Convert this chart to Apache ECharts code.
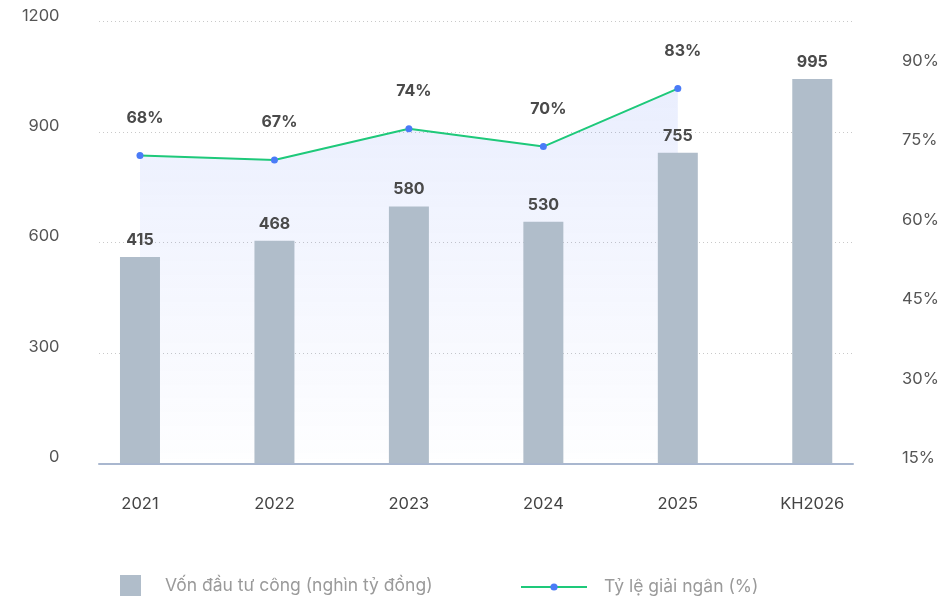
<!DOCTYPE html>
<html>
<head>
<meta charset="utf-8">
<script src="https://cdn.jsdelivr.net/npm/echarts@6/dist/echarts.min.js"></script>
<style>
  html, body { margin: 0; padding: 0; background: #fff; }
  #chart { width: 942px; height: 603px; }
</style>
</head>
<body>
<div id="chart"></div>
<script>
const categories = ['2021', '2022', '2023', '2024', '2025', 'KH2026'];
const investment = [415, 468, 580, 530, 755, 995];
const disbursementRate = [68, 67, 74, 70, 83];
const leftTicks = [0, 1200, 300];   // min, max, interval
const rightTicks = [15, 90, 15];
const barName = 'Vốn đầu tư công (nghìn tỷ đồng)';
const lineName = 'Tỷ lệ giải ngân (%)';

const FONT = 'Inter, "Noto Sans", sans-serif';
const myChart = echarts.init(document.getElementById('chart'));

let option = {
  animation: false,
  textStyle: { fontFamily: FONT },
  grid: [
    { left: 99, right: 89, top: 21.7, bottom: 139.7 },     // axis + split lines
    { left: 72.75, right: 62.5, top: 21.7, bottom: 139.7 }, // series
    { left: 99, right: 89, top: 61, bottom: 144.7 }         // right labels
  ],
  legend: [
    {
      data: [barName],
      left: 120, top: 575, padding: 0,
      icon: 'rect', itemWidth: 21, itemHeight: 21,
      textStyle: { color: '#9a9a9a', fontSize: 17.5, fontFamily: FONT, padding: [0, 0, 0, 19] }
    },
    {
      data: [lineName],
      left: 520, top: 578, padding: 0,
      itemWidth: 66, itemHeight: 9,
      textStyle: { color: '#9a9a9a', fontSize: 17.5, fontFamily: FONT, padding: [0, 0, 0, 12] }
    }
  ],
  xAxis: [
    {
      gridIndex: 0, type: 'category', data: categories,
      axisLine: { show: true, lineStyle: { color: '#a9b7cf', width: 2 } },
      axisTick: { show: false }, axisLabel: { show: false }
    },
    {
      gridIndex: 1, type: 'category', data: categories,
      axisLine: { show: false }, axisTick: { show: false },
      axisLabel: { color: '#444', fontSize: 16.5, fontFamily: FONT, margin: 32 }
    },
    {
      gridIndex: 2, type: 'category', data: categories, show: false
    }
  ],
  yAxis: [
    {
      gridIndex: 0, type: 'value',
      min: leftTicks[0], max: leftTicks[1], interval: leftTicks[2],
      axisLine: { show: false }, axisTick: { show: false },
      axisLabel: {
        color: '#555', fontSize: 16.5, fontFamily: FONT, margin: 39.5,
        verticalAlign: 'bottom', lineHeight: 12,
        formatter: (v) => String(v)
      },
      splitLine: { lineStyle: { color: '#c9c9c9', type: [1, 3], width: 1 } }
    },
    {
      gridIndex: 1, type: 'value', min: -257, max: 1182, startValue: -257, show: false,
      splitLine: { show: false }
    },
    {
      gridIndex: 1, type: 'value', min: -1, max: 98, show: false,
      splitLine: { show: false }
    },
    {
      gridIndex: 2, type: 'value', position: 'right',
      min: rightTicks[0], max: rightTicks[1], interval: rightTicks[2],
      axisLine: { show: false }, axisTick: { show: false },
      axisLabel: { color: '#555', fontSize: 16.5, fontFamily: FONT, margin: 50, formatter: '{value}%' },
      splitLine: { show: false }
    }
  ],
  series: [
    {
      name: barName,
      type: 'bar',
      xAxisIndex: 1, yAxisIndex: 1,
      barWidth: 40,
      z: 3,
      itemStyle: { color: '#b0bdca' },
      label: {
        show: true, position: 'top', distance: 9,
        color: '#4a4a4a', fontSize: 16, fontWeight: 'bold', fontFamily: FONT
      },
      data: investment
    },
    {
      name: lineName,
      type: 'line',
      xAxisIndex: 1, yAxisIndex: 2,
      z: 2,
      symbol: 'circle', symbolSize: 7,
      itemStyle: { color: '#4a7bf7' },
      lineStyle: { color: '#1ec97a', width: 2 },
      areaStyle: {
        color: new echarts.graphic.LinearGradient(0, 0, 0, 1, [
          { offset: 0, color: 'rgba(75,112,245,0.17)' },
          { offset: 0.35, color: 'rgba(75,112,245,0.11)' },
          { offset: 1, color: 'rgba(75,112,245,0.01)' }
        ])
      },
      label: {
        show: true, position: 'top', distance: 26, offset: [5, 0],
        formatter: '{c}%',
        color: '#4a4a4a', fontSize: 16, fontWeight: 'bold', fontFamily: FONT
      },
      data: disbursementRate
    }
  ]
};

if (option && typeof option === 'object') {
  myChart.setOption(option, true);
}
</script>
</body>
</html>
